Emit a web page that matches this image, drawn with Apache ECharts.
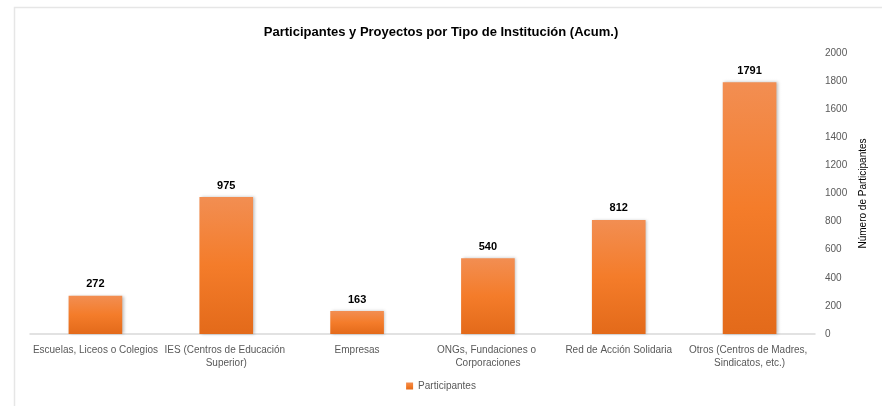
<!DOCTYPE html>
<html>
<head>
<meta charset="utf-8">
<script src="https://cdn.jsdelivr.net/npm/echarts@6/dist/echarts.min.js"></script>
<style>
  html, body { margin: 0; padding: 0; background: #fff; }
  #chart { width: 882px; height: 406px; }
</style>
</head>
<body>
<div id="chart"></div>
<script>
// datos
const categorias = [
  "Escuelas, Liceos o Colegios",
  "IES (Centros de Educación Superior)",
  "Empresas",
  "ONGs, Fundaciones o Corporaciones",
  "Red de Acción Solidaria",
  "Otros (Centros de Madres, Sindicatos, etc.)"
];
const participantes = [272, 975, 163, 540, 812, 1791];
const ticksY = [0, 200, 400, 600, 800, 1000, 1200, 1400, 1600, 1800, 2000];

const fuente = "'Liberation Sans', 'DejaVu Sans', sans-serif";

const myChart = echarts.init(document.getElementById("chart"));

const option = {
  animation: false,
  backgroundColor: "#fff",
  textStyle: { fontFamily: fuente },
  title: {
    text: "Participantes y Proyectos por Tipo de Institución (Acum.)",
    left: "center",
    top: 21,
    textStyle: { fontSize: 13, fontWeight: "bold", color: "#000", fontFamily: fuente }
  },
  // marco del grafico
  graphic: [
    {
      type: "rect",
      shape: { x: 14.5, y: 7.5, width: 900, height: 500 },
      style: { fill: "none", stroke: "#e6e6e6", lineWidth: 1.5 },
      silent: true
    }
  ],
  legend: {
    bottom: 10,
    left: "center",
    itemWidth: 7,
    itemHeight: 7,
    itemGap: 10,
    icon: "rect",
    textStyle: { fontSize: 10, color: "#595959", fontFamily: fuente },
    data: ["Participantes"]
  },
  grid: {
    left: 30,
    right: 67,
    top: 53,
    bottom: 72
  },
  xAxis: {
    type: "category",
    data: categorias,
    axisLine: { lineStyle: { color: "#d9d9d9", width: 1.5 } },
    axisTick: { show: false },
    axisLabel: {
      interval: 0,
      color: "#595959",
      fontSize: 10,
      fontFamily: fuente,
      width: 128,
      overflow: "break",
      lineHeight: 13,
      margin: 10
    }
  },
  yAxis: {
    type: "value",
    position: "right",
    min: ticksY[0],
    max: ticksY[ticksY.length - 1],
    interval: 200,
    name: "Número de Participantes",
    nameLocation: "middle",
    nameGap: 34,
    nameRotate: 90,
    nameTextStyle: { fontSize: 10, color: "#000", fontFamily: fuente },
    axisLine: { show: false },
    axisTick: { show: false },
    splitLine: { show: false },
    axisLabel: {
      color: "#595959",
      fontSize: 10,
      fontFamily: fuente,
      margin: 10,
      align: "left",
      formatter: (v) => String(v)
    }
  },
  series: [
    {
      name: "Participantes",
      type: "bar",
      data: participantes,
      barWidth: "41%",
      itemStyle: {
        color: new echarts.graphic.LinearGradient(0, 0, 0, 1, [
          { offset: 0, color: "#f28e52" },
          { offset: 0.5, color: "#f47c2a" },
          { offset: 1, color: "#e36a1a" }
        ]),
        shadowColor: "rgba(0,0,0,0.25)",
        shadowBlur: 3,
        shadowOffsetX: 1.5
      },
      label: {
        show: true,
        position: "top",
        distance: 6,
        color: "#000",
        fontSize: 11,
        fontWeight: "bold",
        fontFamily: fuente
      }
    }
  ]
};

myChart.setOption(option, true);
</script>
</body>
</html>
